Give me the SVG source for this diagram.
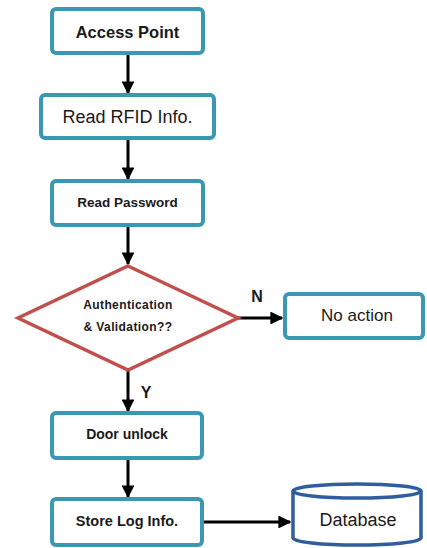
<svg xmlns="http://www.w3.org/2000/svg" width="427" height="548" viewBox="0 0 427 548">
<style>
.box{fill:#fff;stroke:#3b98b2;stroke-width:4}
.dia{fill:#fff;stroke:#c0504d;stroke-width:3.5}
.db{fill:#fff;stroke:#2f5d9e;stroke-width:3.5}
.t{font-family:"Liberation Sans",Arial,sans-serif;fill:#1a1a1a;text-anchor:middle;dominant-baseline:central}
.b{font-weight:bold}
.line{stroke:#000;stroke-width:3;fill:none}
</style>
<defs>
<marker id="ah" viewBox="0 0 10 10" refX="9" refY="5" markerWidth="4.3" markerHeight="4.3" orient="auto" markerUnits="strokeWidth">
<path d="M0,0 L10,5 L0,10 z" fill="#000"/>
</marker>
</defs>
<rect width="427" height="548" fill="#fff"/>
<g id="connectors">
<line class="line" x1="128" y1="54" x2="128" y2="93" marker-end="url(#ah)"/>
<line class="line" x1="128" y1="139" x2="128" y2="179" marker-end="url(#ah)"/>
<line class="line" x1="128" y1="226" x2="128" y2="264" marker-end="url(#ah)"/>
<line class="line" x1="238" y1="318" x2="282" y2="318" marker-end="url(#ah)"/>
<line class="line" x1="128" y1="371" x2="128" y2="411" marker-end="url(#ah)"/>
<line class="line" x1="128" y1="459" x2="128" y2="497" marker-end="url(#ah)"/>
<line class="line" x1="203" y1="522" x2="290" y2="522" marker-end="url(#ah)"/>
<text class="t b" x="257" y="296" font-size="16">N</text>
<text class="t b" x="146" y="392" font-size="16">Y</text>
</g>
<g id="access-point">
<rect class="box" x="52" y="9" width="151" height="44" rx="4"/>
<text class="t b" x="127.5" y="32" font-size="16.5">Access Point</text>
</g>
<g id="read-rfid">
<rect class="box" x="41" y="95" width="173" height="43" rx="4"/>
<text class="t" x="127.5" y="117" font-size="18">Read RFID Info.</text>
</g>
<g id="read-password">
<rect class="box" x="52" y="181" width="151" height="44" rx="4"/>
<text class="t b" x="127.5" y="202" font-size="13.5">Read Password</text>
</g>
<g id="auth">
<polygon class="dia" points="128,266 238,318 128,370 18,318"/>
<text class="t b" x="128" y="305" font-size="12" letter-spacing="0.4">Authentication</text>
<text class="t b" x="128" y="327" font-size="12" letter-spacing="0.4">&amp; Validation??</text>
</g>
<g id="no-action">
<rect class="box" x="285" y="294" width="138" height="44" rx="4"/>
<text class="t" x="357" y="315" font-size="17">No action</text>
</g>
<g id="door-unlock">
<rect class="box" x="52" y="413" width="150" height="45" rx="4"/>
<text class="t b" x="127" y="434" font-size="14">Door unlock</text>
</g>
<g id="store-log">
<rect class="box" x="52" y="499" width="150" height="46" rx="4"/>
<text class="t b" x="127" y="521" font-size="14.5">Store Log Info.</text>
</g>
<g id="database">
<path class="db" d="M293,491 L293,538 A64,7 0 0 0 421,538 L421,491"/>
<ellipse class="db" cx="357" cy="491" rx="64" ry="7"/>
<text class="t" x="358" y="520" font-size="18">Database</text>
</g>
</svg>
